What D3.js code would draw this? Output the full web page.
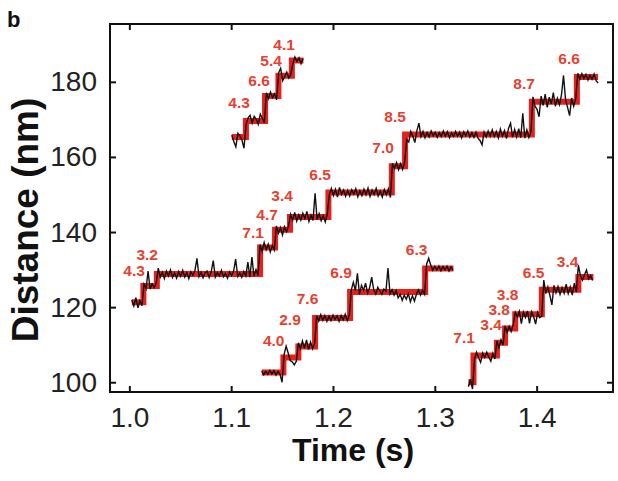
<!DOCTYPE html>
<html><head><meta charset="utf-8">
<script src="https://cdn.jsdelivr.net/npm/d3@7"></script>
<style>html,body{margin:0;padding:0;background:#fff;}svg{display:block;}</style>
</head><body>
<svg id="chart" width="618" height="481"></svg>
<script>
// ---- data ----
const xTicks = [1.0, 1.1, 1.2, 1.3, 1.4];
const yTicks = [100, 120, 140, 160, 180];
const sampleDt = 0.002;

// step-fit traces: change times (last = end) and levels (nm)
const fitA_times = [1.1006, 1.1145, 1.1333, 1.1464, 1.1596, 1.1710];
const fitA_levels = [165.3, 169.6, 176.2, 181.6, 185.7];
const fitB_times = [1.0024, 1.0138, 1.0270, 1.1284, 1.1431, 1.1578, 1.1955, 1.2578, 1.2708, 1.3953, 1.4395, 1.4604];
const fitB_levels = [121.3, 125.6, 128.8, 135.9, 140.6, 144.0, 150.5, 157.5, 166.0, 174.7, 181.3];
const fitC_times = [1.1300, 1.1513, 1.1660, 1.1824, 1.2168, 1.2905, 1.3183];
const fitC_levels = [102.6, 106.6, 109.5, 117.1, 124.0, 130.3];
const fitD_times = [1.3330, 1.3380, 1.3610, 1.3690, 1.3790, 1.4051, 1.4410, 1.4558];
const fitD_levels = [100.0, 107.1, 110.5, 114.3, 118.1, 124.6, 128.0];

// raw trace residuals around the fit (nm), one per 2 ms sample
const rawA_resid = [0.5,-1.2,-2.6,1.0,0.3,-0.8,-3.0,-1.0,0.8,1.5,-0.6,1.2,0.4,-0.9,1.8,0.7,
  -0.5,0.9,-0.7,1.1,-0.4,0.6,-1.0,0.8,2.0,-1.3,-0.2,1.0,-0.6,0.4,-0.8,0.9,-0.3,0.7,-0.9,0.5];
const rawB_resid = [
  0.6,-1.0,1.2,-1.5,0.4,-0.9,0.5,-0.7,4.0,-0.8,
  0.6,-0.4,0.9,1.6,-0.8,0.5,-1.2,0.8,-0.5,1.1,
  -0.9,0.3,-1.1,0.7,-0.6,1.0,-0.8,0.4,-1.2,0.6,
  -0.3,0.9,4.2,-0.7,0.5,-1.0,0.3,0.8,-0.9,0.6,
  3.6,-0.8,0.4,-0.5,1.0,-0.7,0.2,-1.1,0.6,-0.4,
  0.8,4.0,-0.6,0.3,-0.9,0.7,-0.5,3.2,-0.8,4.5,
  -0.6,1.2,-0.4,0.8,-1.0,1.3,-0.6,0.9,-1.2,0.5,
  -0.7,1.0,-0.9,0.6,-1.4,0.8,-0.5,1.1,0.7,-0.9,
  1.2,-1.1,0.6,-0.8,1.0,-0.4,1.5,-1.2,0.5,-0.9,
  6.3,-0.7,0.9,-1.0,0.4,-1.3,0.8,-0.6,1.1,-0.8,
  0.9,-1.2,1.4,-0.5,0.7,-1.0,0.6,-0.9,0.8,-0.4,
  1.0,-1.1,0.5,-0.8,0.9,-0.6,1.2,-1.0,0.7,-0.5,
  1.1,-0.9,0.4,-1.2,0.8,-0.6,1.0,-1.3,0.8,-0.6,
  1.0,-0.9,0.7,-0.8,1.2,-1.4,-2.0,0.8,-0.5,-2.2,
  1.0,3.0,-0.6,0.8,-0.9,0.5,-0.7,0.9,-0.4,0.6,
  -0.8,0.5,-0.6,0.9,-0.5,0.7,-0.9,0.4,-0.6,0.8,
  -0.5,0.6,-0.9,0.7,-0.4,0.9,-0.7,0.5,-0.8,0.6,
  -1.0,-1.6,-2.8,0.6,-0.7,0.9,-0.5,1.2,-0.6,0.8,
  -0.9,1.4,-0.5,1.0,-1.1,1.6,3.0,-0.8,1.3,-0.7,
  1.5,-0.9,5.6,-1.0,1.2,-0.8,0.6,1.3,-1.2,-2.0,
  -4.0,1.5,-1.0,2.0,-1.5,1.2,-0.6,2.4,-1.2,0.9,
  -0.8,1.8,7.0,0.5,-1.5,-3.7,1.0,-1.2,0.8,1.0,
  -0.6,0.9,-0.4,0.7,-0.8,0.5,-0.6,0.8,-1.0,-1.6];
const rawC_resid = [
  0.4,-0.6,0.3,-0.5,0.6,-0.4,0.5,-0.7,0.3,-0.5,
  -2.6,0.8,3.0,1.2,-0.8,-1.2,-2.0,-1.0,1.0,-0.6,
  1.5,-0.5,1.8,-0.8,1.2,-0.6,0.9,0.6,-0.8,0.9,
  -0.6,0.7,-0.9,0.5,-0.7,0.8,-0.4,0.6,-0.9,0.7,
  -0.5,1.0,-0.7,0.8,0.6,2.6,0.4,5.0,-0.6,1.8,
  0.5,2.4,-0.3,1.2,4.0,0.6,-0.5,1.3,0.3,-0.6,
  0.8,0.2,6.4,-0.5,0.6,-0.8,0.4,-1.5,-0.6,-2.2,
  -0.8,-1.9,-0.4,-2.6,-1.0,-2.4,-0.5,0.6,-0.8,0.5,
  -0.6,1.2,2.7,0.9,-0.5,0.6,-0.4,0.7,-0.6,0.5,
  -0.4,0.6,-0.7,0.4,-0.5];
const rawD_resid = [
  -1.2,0.8,-1.8,-1.0,0.9,-0.6,-1.8,0.7,-0.5,0.9,
  -0.4,-1.5,0.6,-0.9,0.5,-1.3,0.8,-0.6,0.7,-1.0,
  0.6,-0.8,1.1,0.5,-0.7,0.8,-2.5,0.6,-0.8,0.9,
  -2.4,0.7,-0.6,-2.6,0.5,-0.9,-0.5,2.6,-1.0,0.8,
  -1.5,-4.0,1.2,-0.8,0.9,-1.2,0.6,-0.9,1.5,-1.0,
  0.8,-1.4,1.8,-0.6,3.2,0.4,-0.8,0.6,1.9,-0.5,
  0.4,-0.9];

// step-size annotations: text, time (s), distance (nm)
const labelText = ["4.3","6.6","5.4","4.1",
  "4.3","3.2","7.1","4.7","3.4","6.5","7.0","8.5","8.7","6.6",
  "4.0","2.9","7.6","6.9","6.3",
  "7.1","3.4","3.8","3.8","6.5","3.4"];
const labelTime = [1.1078,1.1274,1.1392,1.1520,
  1.0047,1.0175,1.1215,1.1353,1.1500,1.1873,1.2492,1.2610,1.3877,1.4319,
  1.1418,1.1578,1.1750,1.2080,1.2821,
  1.3288,1.3553,1.3632,1.3715,1.3970,1.4304];
const labelDist = [174.5,180.5,185.8,190.0,
  129.8,134.1,140.0,144.8,149.8,155.4,162.4,170.9,179.7,186.3,
  111.2,116.8,122.2,129.2,135.5,
  112.0,115.3,119.4,123.3,129.2,132.3];

// ---- layout ----
const L = 110, R = 613, T = 24, B = 392;
const svg = d3.select("#chart");
const x = d3.scaleLinear().domain([0.981, 1.475]).range([L, R]);
const y = d3.scaleLinear().domain([97.4, 195.4]).range([B, T]);

const traces = [
  {times: fitA_times, levels: fitA_levels, resid: rawA_resid},
  {times: fitB_times, levels: fitB_levels, resid: rawB_resid},
  {times: fitC_times, levels: fitC_levels, resid: rawC_resid},
  {times: fitD_times, levels: fitD_levels, resid: rawD_resid}
];

function levelAt(tr, t) {
  let k = d3.bisectRight(tr.times, t) - 1;
  k = Math.max(0, Math.min(tr.levels.length - 1, k));
  return tr.levels[k];
}

const stepLine = d3.line().x(d => x(d[0])).y(d => y(d[1])).curve(d3.curveStepAfter);
const rawLine = d3.line().x(d => x(d[0])).y(d => y(d[1]));

const g = svg.append("g");
traces.forEach(tr => {
  const pts = tr.levels.map((v, i) => [tr.times[i], v]);
  pts.push([tr.times[tr.times.length - 1], tr.levels[tr.levels.length - 1]]);
  g.append("path").attr("d", stepLine(pts))
    .attr("fill", "none").attr("stroke", "#e8201c").attr("stroke-width", 6)
    .attr("stroke-linejoin", "miter");
});
traces.forEach(tr => {
  const t0 = tr.times[0];
  const raw = tr.resid.map((r, i) => {
    const t = t0 + i * sampleDt;
    return [t, levelAt(tr, t) + r];
  });
  g.append("path").attr("d", rawLine(raw))
    .attr("fill", "none").attr("stroke", "#111").attr("stroke-width", 1.4);
});

const font = "Liberation Sans, Arial, sans-serif";
// labels
svg.append("g").selectAll("text").data(labelText).join("text")
  .attr("x", (d, i) => x(labelTime[i]))
  .attr("y", (d, i) => y(labelDist[i]))
  .attr("dy", "0.36em")
  .attr("text-anchor", "middle")
  .attr("font-family", font)
  .attr("font-weight", "bold")
  .attr("font-size", 15.5)
  .attr("fill", "#e8402f")
  .text(d => d);

// frame
svg.append("rect").attr("x", L).attr("y", T).attr("width", R - L).attr("height", B - T)
  .attr("fill", "none").attr("stroke", "#111").attr("stroke-width", 2);

// axes with inward ticks
const xb = svg.append("g").attr("transform", `translate(0,${B})`)
  .call(d3.axisBottom(x).tickValues(xTicks).tickFormat(d3.format(".1f")).tickSizeInner(-6).tickSizeOuter(0).tickPadding(15));
const xt = svg.append("g").attr("transform", `translate(0,${T})`)
  .call(d3.axisTop(x).tickValues(xTicks).tickFormat("").tickSizeInner(-6).tickSizeOuter(0));
const yl = svg.append("g").attr("transform", `translate(${L},0)`)
  .call(d3.axisLeft(y).tickValues(yTicks).tickSizeInner(-6).tickSizeOuter(0).tickPadding(13));
const yr = svg.append("g").attr("transform", `translate(${R},0)`)
  .call(d3.axisRight(y).tickValues(yTicks).tickFormat("").tickSizeInner(-6).tickSizeOuter(0));
[xb, xt, yl, yr].forEach(a => {
  a.select(".domain").remove();
  a.selectAll(".tick line").attr("stroke", "#111").attr("stroke-width", 2);
  a.selectAll("text").attr("font-family", font).attr("font-size", 28).attr("fill", "#222");
});
xb.selectAll("text").attr("dy", "0.71em");

// axis titles
svg.append("text").attr("x", 353).attr("y", 461).attr("text-anchor", "middle")
  .attr("font-family", font).attr("font-weight", "bold").attr("font-size", 32).attr("fill", "#111")
  .text("Time (s)");
svg.append("text").attr("transform", "translate(38,220) rotate(-90)").attr("text-anchor", "middle")
  .attr("font-family", font).attr("font-weight", "bold").attr("font-size", 37).attr("fill", "#111")
  .text("Distance (nm)");
svg.append("text").attr("x", 7).attr("y", 27)
  .attr("font-family", font).attr("font-weight", "bold").attr("font-size", 22).attr("fill", "#111")
  .text("b");
</script>
</body></html>
